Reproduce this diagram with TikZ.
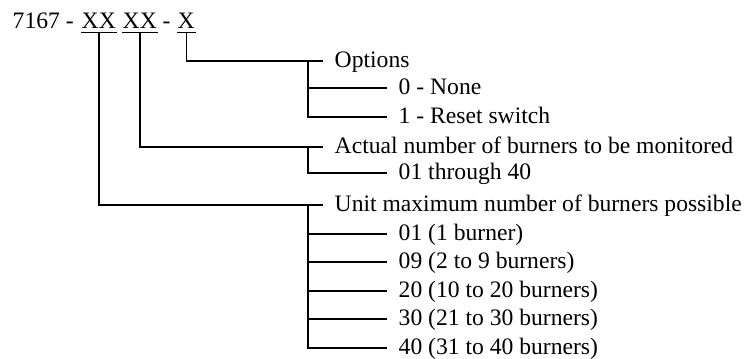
\documentclass[tikz,border=0pt]{standalone}
\usepackage{fontspec}
\setmainfont{Liberation Serif}
\begin{document}
\begin{tikzpicture}[x=0.75pt,y=-0.75pt, line width=1.1pt,
  every node/.style={font=\fontsize{17.7}{20}\selectfont},
  lab/.style={anchor=west, inner xsep=8.25pt, inner ysep=0pt, text height=10pt, text depth=0pt},
  plain/.style={anchor=base west, inner sep=0pt},
  code/.style={anchor=base west, inner sep=0pt, text depth=3pt}]
\useasboundingbox (0,0) rectangle (755,358);
% header
\node[plain] (pre) at (12,28) {7167 -};
\node[code] (xx1) at (81,28) {XX};
\node[code] (xx2) at (122,28) {XX};
\node[plain] (dash) at (162,28) {-};
\node[code] (x3) at (177,28) {X};
\foreach \n in {xx1,xx2,x3} \draw (\n.south west) -- (\n.south east);
% labels
\node[lab] (opt) at (323,61) {Options};
\node[lab] (o0) at (387,88) {0 - None};
\node[lab] (o1) at (387,117) {1 - Reset switch};
\node[lab] (act) at (323,147) {Actual number of burners to be monitored};
\node[lab] (a1) at (387,173) {01 through 40};
\node[lab] (unit) at (323,205) {Unit maximum number of burners possible};
\node[lab] (u1) at (387,234) {01 (1 burner)};
\node[lab] (u2) at (387,262) {09 (2 to 9 burners)};
\node[lab] (u3) at (387,291) {20 (10 to 20 burners)};
\node[lab] (u4) at (387,319) {30 (21 to 30 burners)};
\node[lab] (u5) at (387,348) {40 (31 to 40 burners)};
% connectors from code to groups
\draw (x3.south) |- (opt.west);
\draw (xx2.south) |- (act.west);
\draw (xx1.south) |- (unit.west);
% branch spines
\coordinate (ob) at ([xshift=-11.25pt]opt.west);
\coordinate (ab) at ([xshift=-11.25pt]act.west);
\coordinate (ub) at ([xshift=-11.25pt]unit.west);
\draw (ob) |- (o1.west);
\draw (ob |- o0.west) -- (o0.west);
\draw (ab) |- (a1.west);
\draw (ub) |- (u5.west);
\foreach \n in {u1,u2,u3,u4} \draw (ub |- \n.west) -- (\n.west);
\end{tikzpicture}
\end{document}
